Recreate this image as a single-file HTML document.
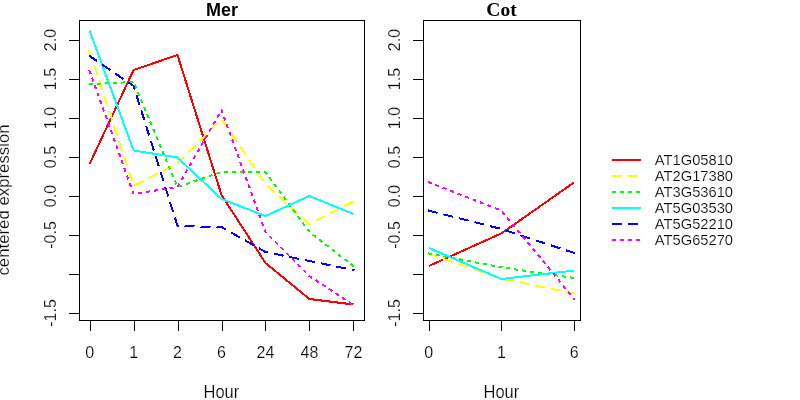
<!DOCTYPE html>
<html><head><meta charset="utf-8"><title>plot</title>
<style>
html,body{margin:0;padding:0;background:#fff;}
body{width:800px;height:400px;overflow:hidden;}
svg{display:block;}
text{font-family:"Liberation Sans",sans-serif;fill:#000;}
svg{filter:opacity(0.9999);}
.ax{font-size:16px;stroke:#fff;stroke-width:0.2px;}
.lg{font-size:15.3px;stroke:#fff;stroke-width:0.2px;}
</style></head><body>
<svg width="800" height="400" viewBox="0 0 800 400">
<rect x="0" y="0" width="800" height="400" fill="#fff"/>

<g fill="none" stroke-width="2" stroke-linejoin="round" shape-rendering="crispEdges">
<polyline points="89.6,164.0 133.6,70.0 177.5,55.0 221.5,195.0 265.5,263.0 309.4,299.0 353.4,304.5" stroke="#ff0000"/>
<polyline points="89.6,51.0 133.6,186.0 177.5,163.5 221.5,119.0 265.5,184.0 309.4,224.0 353.4,201.5" stroke="#ffff00" stroke-dasharray="8 8" stroke-linecap="square"/>
<polyline points="89.6,84.0 133.6,82.0 177.5,187.0 221.5,172.0 265.5,172.0 309.4,232.0 353.4,266.0" stroke="#00ff00" stroke-dasharray="2 6" stroke-linecap="square"/>
<polyline points="89.6,30.5 133.6,150.5 177.5,157.5 221.5,199.0 265.5,216.0 309.4,196.0 353.4,214.0" stroke="#00ffff"/>
<polyline points="89.6,56.0 133.6,86.0 177.5,226.0 221.5,227.0 265.5,252.0 309.4,261.0 353.4,270.0" stroke="#0000ff" stroke-dasharray="8 8" stroke-linecap="square"/>
<polyline points="89.6,71.0 133.6,194.0 177.5,187.0 221.5,110.0 265.5,232.0 309.4,276.0 353.4,305.0" stroke="#ff00ff" stroke-dasharray="2 6" stroke-linecap="square"/>
<polyline points="428.8,266.0 501.4,233.4 574.2,182.3" stroke="#ff0000"/>
<polyline points="428.8,254.0 501.4,278.5 574.2,293.5" stroke="#ffff00" stroke-dasharray="8 8" stroke-linecap="square"/>
<polyline points="428.8,253.5 501.4,267.3 574.2,278.0" stroke="#00ff00" stroke-dasharray="2 6" stroke-linecap="square"/>
<polyline points="428.8,248.0 501.4,279.0 574.2,270.5" stroke="#00ffff"/>
<polyline points="428.8,210.6 501.4,229.0 574.2,253.0" stroke="#0000ff" stroke-dasharray="8 8" stroke-linecap="square"/>
<polyline points="428.8,182.3 501.4,210.6 574.2,298.9" stroke="#ff00ff" stroke-dasharray="2 6" stroke-linecap="square"/>
</g>
<g fill="none" stroke="#000" stroke-width="1" shape-rendering="crispEdges">
<rect x="79.5" y="20.5" width="285" height="300"/>
<rect x="423.5" y="20.5" width="157" height="300"/>
<line x1="69" y1="40.5" x2="79" y2="40.5"/>
<line x1="413" y1="40.5" x2="423" y2="40.5"/>
<line x1="69" y1="79.5" x2="79" y2="79.5"/>
<line x1="413" y1="79.5" x2="423" y2="79.5"/>
<line x1="69" y1="118.5" x2="79" y2="118.5"/>
<line x1="413" y1="118.5" x2="423" y2="118.5"/>
<line x1="69" y1="157.5" x2="79" y2="157.5"/>
<line x1="413" y1="157.5" x2="423" y2="157.5"/>
<line x1="69" y1="196.5" x2="79" y2="196.5"/>
<line x1="413" y1="196.5" x2="423" y2="196.5"/>
<line x1="69" y1="235.5" x2="79" y2="235.5"/>
<line x1="413" y1="235.5" x2="423" y2="235.5"/>
<line x1="69" y1="274.5" x2="79" y2="274.5"/>
<line x1="413" y1="274.5" x2="423" y2="274.5"/>
<line x1="69" y1="313.5" x2="79" y2="313.5"/>
<line x1="413" y1="313.5" x2="423" y2="313.5"/>
<line x1="90.5" y1="320" x2="90.5" y2="331"/>
<line x1="134.5" y1="320" x2="134.5" y2="331"/>
<line x1="178.5" y1="320" x2="178.5" y2="331"/>
<line x1="222.5" y1="320" x2="222.5" y2="331"/>
<line x1="265.5" y1="320" x2="265.5" y2="331"/>
<line x1="309.5" y1="320" x2="309.5" y2="331"/>
<line x1="353.5" y1="320" x2="353.5" y2="331"/>
<line x1="429.5" y1="320" x2="429.5" y2="331"/>
<line x1="501.5" y1="320" x2="501.5" y2="331"/>
<line x1="574.5" y1="320" x2="574.5" y2="331"/>
</g>
<g class="ax t" text-anchor="middle">
<text x="89.6" y="358">0</text>
<text x="133.6" y="358">1</text>
<text x="177.5" y="358">2</text>
<text x="221.5" y="358">6</text>
<text x="265.5" y="358">24</text>
<text x="309.4" y="358">48</text>
<text x="353.4" y="358">72</text>
<text x="428.8" y="358">0</text>
<text x="501.4" y="358">1</text>
<text x="574.2" y="358">6</text>
<text transform="translate(221.4,398) scale(0.935,1)" style="font-size:17.6px">Hour</text>
<text transform="translate(501.4,398) scale(0.935,1)" style="font-size:17.6px">Hour</text>
<text transform="translate(56,40) rotate(-90)">2.0</text>
<text transform="translate(400,40) rotate(-90)">2.0</text>
<text transform="translate(56,79) rotate(-90)">1.5</text>
<text transform="translate(400,79) rotate(-90)">1.5</text>
<text transform="translate(56,118) rotate(-90)">1.0</text>
<text transform="translate(400,118) rotate(-90)">1.0</text>
<text transform="translate(56,157) rotate(-90)">0.5</text>
<text transform="translate(400,157) rotate(-90)">0.5</text>
<text transform="translate(56,196) rotate(-90)">0.0</text>
<text transform="translate(400,196) rotate(-90)">0.0</text>
<text transform="translate(56,235) rotate(-90)">-0.5</text>
<text transform="translate(400,235) rotate(-90)">-0.5</text>
<text transform="translate(56,313) rotate(-90)">-1.5</text>
<text transform="translate(400,313) rotate(-90)">-1.5</text>
<text transform="translate(8.5,200) rotate(-90)" style="font-size:16.8px">centered expression</text>
</g>
<text x="222" y="16" text-anchor="middle" style="font-size:18px;font-weight:bold">Mer</text>
<text x="501.5" y="16" text-anchor="middle" style="font-family:'Liberation Serif',serif;font-size:19.5px;font-weight:bold">Cot</text>
<g fill="none" stroke-width="2" shape-rendering="crispEdges">
<line x1="612" y1="160" x2="641" y2="160" stroke="#ff0000"/>
<line x1="613" y1="176" x2="640" y2="176" stroke="#ffff00" stroke-dasharray="8 8" stroke-linecap="square"/>
<line x1="613" y1="192" x2="640" y2="192" stroke="#00ff00" stroke-dasharray="2 6" stroke-linecap="square"/>
<line x1="612" y1="208" x2="641" y2="208" stroke="#00ffff"/>
<line x1="613" y1="224" x2="640" y2="224" stroke="#0000ff" stroke-dasharray="8 8" stroke-linecap="square"/>
<line x1="613" y1="240" x2="640" y2="240" stroke="#ff00ff" stroke-dasharray="2 6" stroke-linecap="square"/>
</g>
<g class="lg t">
<text transform="translate(654.8,165) scale(0.963,1)">AT1G05810</text>
<text transform="translate(654.8,181) scale(0.963,1)">AT2G17380</text>
<text transform="translate(654.8,197) scale(0.963,1)">AT3G53610</text>
<text transform="translate(654.8,213) scale(0.963,1)">AT5G03530</text>
<text transform="translate(654.8,229) scale(0.963,1)">AT5G52210</text>
<text transform="translate(654.8,245) scale(0.963,1)">AT5G65270</text>
</g>
</svg></body></html>
